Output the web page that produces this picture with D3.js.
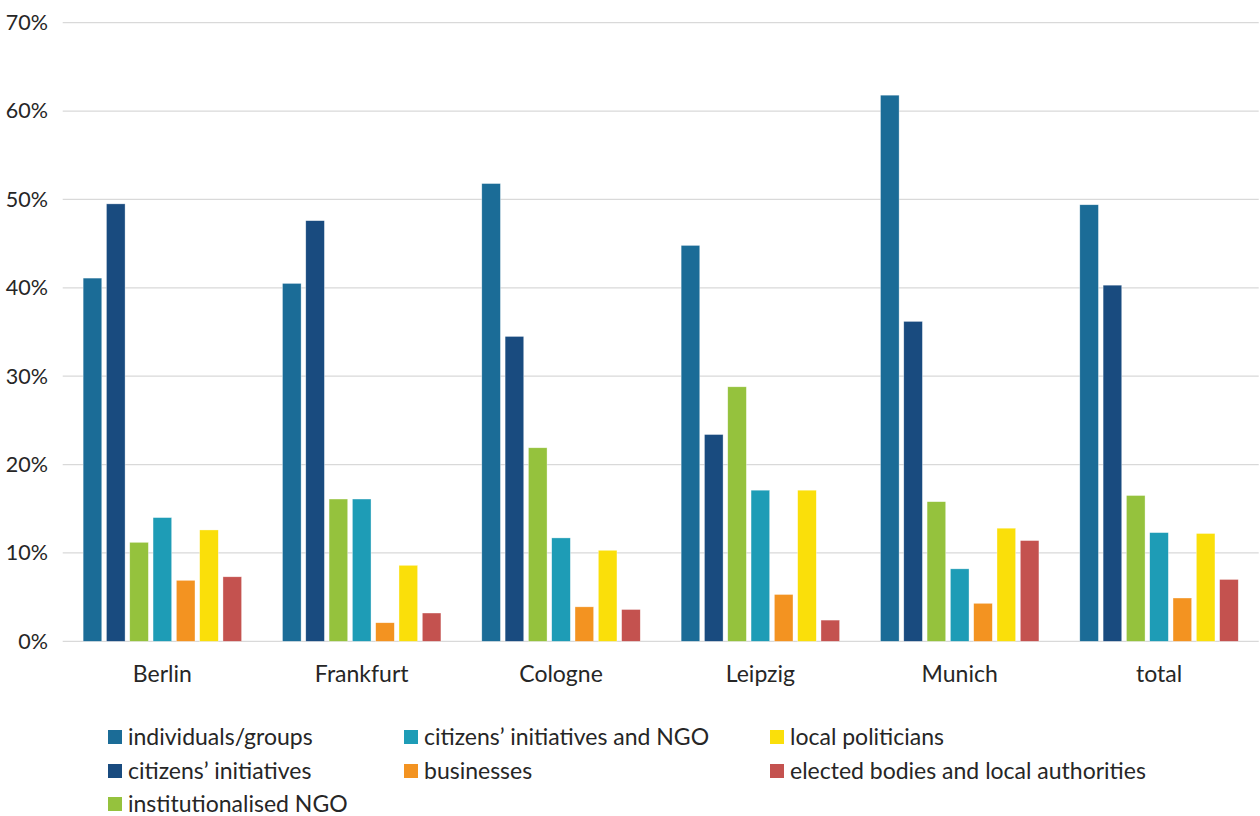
<!DOCTYPE html>
<html>
<head>
<meta charset="utf-8">
<script src="https://cdn.jsdelivr.net/npm/d3@7"></script>
<style>
  html, body { margin: 0; padding: 0; background: #fff; }
  svg { display: block; font-family: Lato, "Open Sans", sans-serif; }
</style>
</head>
<body>
<svg id="chart" width="1260" height="816"></svg>
<script>
const cities = ["Berlin", "Frankfurt", "Cologne", "Leipzig", "Munich", "total"];
const seriesNames = [
  "individuals/groups",
  "citizens\u2019 initiatives",
  "institutionalised NGO",
  "citizens\u2019 initiatives and NGO",
  "businesses",
  "local politicians",
  "elected bodies and local authorities"
];
const seriesColors = ["#1B6C97", "#194B7F", "#95C23D", "#1E9CB6", "#F39321", "#FADF0A", "#C4524F"];
const individualsGroups   = [41.1, 40.5, 51.8, 44.8, 61.8, 49.4];
const citizensInitiatives = [49.5, 47.6, 34.5, 23.4, 36.2, 40.3];
const institutionalNGO    = [11.2, 16.1, 21.9, 28.8, 15.8, 16.5];
const citizensAndNGO      = [14.0, 16.1, 11.7, 17.1, 8.2, 12.3];
const businesses          = [6.9, 2.1, 3.9, 5.3, 4.3, 4.9];
const localPoliticians    = [12.6, 8.6, 10.3, 17.1, 12.8, 12.2];
const electedBodies       = [7.3, 3.2, 3.6, 2.4, 11.4, 7.0];
const yTicks = [0, 10, 20, 30, 40, 50, 60, 70];

const seriesValues = [individualsGroups, citizensInitiatives, institutionalNGO, citizensAndNGO, businesses, localPoliticians, electedBodies];

const svg = d3.select("#chart");
const plot = { left: 62.7, right: 1258.7, top: 22.7, bottom: 641.3 };

const y = d3.scaleLinear().domain([0, 70]).range([plot.bottom, plot.top]);
const x0 = d3.scaleBand().domain(cities).range([plot.left, plot.right]).padding(0);
const gw = x0.bandwidth();
const x1 = d3.scaleBand().domain(seriesNames)
  .range([gw * 0.0908, gw * 0.9092]).paddingInner(0.2).paddingOuter(0.1);

// gridlines
svg.append("g").selectAll("line").data(yTicks).join("line")
  .attr("x1", plot.left).attr("x2", plot.right)
  .attr("y1", d => y(d)).attr("y2", d => y(d))
  .attr("stroke", "#D9D9D9").attr("stroke-width", 1.3);

// y axis labels
const yAxis = d3.axisLeft(y).tickValues(yTicks).tickFormat(d => d + "%").tickSize(0).tickPadding(0);
const yg = svg.append("g").attr("transform", `translate(48,0)`).call(yAxis);
yg.select(".domain").remove();
yg.selectAll("text").attr("font-size", 21.5).attr("fill", "#262626").attr("font-family", "Lato, 'Open Sans', sans-serif");

// bars
const groups = svg.append("g").selectAll("g").data(cities).join("g")
  .attr("transform", d => `translate(${x0(d)},0)`);
groups.selectAll("rect")
  .data((c, ci) => seriesNames.map((s, si) => ({ s, si, v: seriesValues[si][ci] })))
  .join("rect")
  .attr("x", d => x1(d.s))
  .attr("width", x1.bandwidth())
  .attr("y", d => y(d.v))
  .attr("height", d => y(0) - y(d.v))
  .attr("fill", d => seriesColors[d.si])
  .attr("stroke", "#fff").attr("stroke-width", 0.6).attr("stroke-opacity", 0.6);

// x axis labels
const xAxis = d3.axisBottom(x0).tickSize(0).tickPadding(0);
const xg = svg.append("g").attr("transform", `translate(0,${plot.bottom + 24})`).call(xAxis);
xg.select(".domain").remove();
xg.selectAll("text").attr("font-size", 23).attr("fill", "#262626").attr("font-family", "Lato, 'Open Sans', sans-serif");

// legend (column-major, 3 rows)
const legendCols = [108, 404, 770];
const legendRows = [737, 771, 804];
const colOf = [0, 0, 0, 1, 1, 2, 2];
const rowOf = [0, 1, 2, 0, 1, 0, 1];
const leg = svg.append("g").selectAll("g").data(seriesNames).join("g")
  .attr("transform", (d, i) => `translate(${legendCols[colOf[i]]},${legendRows[rowOf[i]]})`);
leg.append("rect").attr("x", 0).attr("y", -7).attr("width", 14).attr("height", 14)
  .attr("fill", (d, i) => seriesColors[i]);
leg.append("text").attr("x", 20).attr("y", 0).attr("dy", "0.33em")
  .attr("font-size", 23).attr("fill", "#262626").text(d => d);
</script>
</body>
</html>
